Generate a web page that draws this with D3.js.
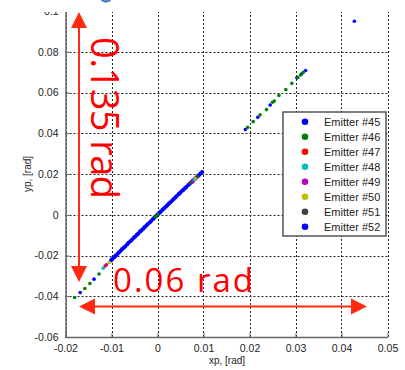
<!DOCTYPE html>
<html><head><meta charset="utf-8">
<script src="https://cdn.jsdelivr.net/npm/d3@7"></script>
<style>body{margin:0;background:#fff}svg{display:block}</style>
</head><body>
<svg id="c" width="405" height="370"></svg>
<script>
// ---- data ----
const emitters = ["Emitter #45","Emitter #46","Emitter #47","Emitter #48","Emitter #49","Emitter #50","Emitter #51","Emitter #52"];
const colors = ["#0000ff","#008000","#ff0000","#00bfbf","#bf00bf","#bfbf00","#404040","#0000ff"];
const xTicks = [-0.02,-0.01,0,0.01,0.02,0.03,0.04,0.05];
const xTickLabels = ["-0.02","-0.01","0","0.01","0.02","0.03","0.04","0.05"];
const yTicks = [-0.06,-0.04,-0.02,0,0.02,0.04,0.06,0.08,0.1];
const yTickLabels = ["-0.06","-0.04","-0.02","0","0.02","0.04","0.06","0.08","0.1"];

const e45x = [-0.0168,-0.0138,0.0191,0.0218,0.0245,0.0303,0.0313,0.0322,0.0428];
const e45y = [-0.0382,-0.0316,0.0418,0.0478,0.0539,0.0672,0.0691,0.0708,0.0950];
const e46x = [-0.0180,-0.0158,-0.0147,-0.0127,-0.0004,0.0000,0.0196,0.0208,0.0223,0.0237,0.0250,0.0254,0.0264,0.0279,0.0292,0.0305,0.0311,0.0317];
const e46y = [-0.0406,-0.0362,-0.0338,-0.0291,-0.0009,0.0000,0.0429,0.0457,0.0490,0.0516,0.0552,0.0558,0.0585,0.0614,0.0645,0.0674,0.0686,0.0699];
const e47x = [-0.0114,0.0078];
const e47y = [-0.0252,0.0166];
const e48x = [-0.0118,0.0080];
const e48y = [-0.0262,0.0171];
const e49x = [-0.0111,0.0075];
const e49y = [-0.0246,0.0161];
const e50x = [-0.0105,0.0083];
const e50y = [-0.0234,0.0180];
const e51x = [0.0071,0.0087];
const e51y = [0.0156,0.0188];
const e52x = [-0.0101,-0.0098,-0.0094,-0.0091,-0.0087,-0.0084,-0.0080,-0.0077,-0.0073,-0.0070,-0.0066,-0.0063,-0.0059,-0.0056,-0.0052,-0.0049,-0.0045,-0.0042,-0.0038,-0.0035,-0.0031,-0.0028,-0.0024,-0.0021,-0.0017,-0.0014,-0.0010,-0.0007,-0.0003,0.0000,0.0004,0.0007,0.0011,0.0014,0.0018,0.0021,0.0025,0.0028,0.0032,0.0035,0.0039,0.0042,0.0046,0.0049,0.0053,0.0056,0.0060,0.0063,0.0067,0.0070,0.0074,0.0077,0.0081,0.0084,0.0088,0.0091,0.0094,0.0097];
const e52y = [-0.0224,-0.0217,-0.0208,-0.0201,-0.0193,-0.0185,-0.0177,-0.0169,-0.0161,-0.0155,-0.0146,-0.0138,-0.0130,-0.0124,-0.0114,-0.0108,-0.0099,-0.0093,-0.0083,-0.0077,-0.0069,-0.0061,-0.0053,-0.0046,-0.0038,-0.0031,-0.0022,-0.0015,-0.0007,0.0001,0.0009,0.0015,0.0024,0.0031,0.0039,0.0046,0.0055,0.0061,0.0070,0.0077,0.0085,0.0092,0.0101,0.0107,0.0116,0.0122,0.0131,0.0137,0.0146,0.0152,0.0160,0.0167,0.0175,0.0182,0.0190,0.0196,0.0203,0.0209];

const seriesX = [e45x,e46x,e47x,e48x,e49x,e50x,e51x,e52x];
const seriesY = [e45y,e46y,e47y,e48y,e49y,e50y,e51y,e52y];

// ---- chart ----
const svg = d3.select("#c");
const L=65.5, R=387.5, T=11, B=337;
const x = d3.scaleLinear().domain([-0.02,0.05]).range([L,R]);
const y = d3.scaleLinear().domain([-0.06,0.1]).range([B,T]);
const font = "'Liberation Sans', Arial, sans-serif";

// grid
const grid = svg.append("g").attr("stroke","#222").attr("stroke-width",1).attr("stroke-dasharray","2,2");
xTicks.forEach(v=>grid.append("line").attr("x1",Math.round(x(v))+0.5).attr("x2",Math.round(x(v))+0.5).attr("y1",T).attr("y2",B));
yTicks.forEach(v=>grid.append("line").attr("y1",Math.round(y(v))+0.5).attr("y2",Math.round(y(v))+0.5).attr("x1",L).attr("x2",R));

// axes
const xAxis = d3.axisBottom(x).tickValues(xTicks).tickFormat((d,i)=>xTickLabels[i]).tickSizeInner(-4).tickSizeOuter(0).tickPadding(8);
const yAxis = d3.axisLeft(y).tickValues(yTicks).tickFormat((d,i)=>yTickLabels[i]).tickSizeInner(-4).tickSizeOuter(0).tickPadding(7);
const gx = svg.append("g").attr("transform",`translate(0,${B})`).call(xAxis);
const gy = svg.append("g").attr("transform",`translate(${L},0)`).call(yAxis);
[gx,gy].forEach(g=>{
  g.select(".domain").attr("stroke","#666").attr("stroke-width",1.5);
  g.selectAll(".tick line").attr("stroke","#666");
  g.selectAll(".tick text").attr("font-family",font).attr("font-size",10.5).attr("fill","#222");
});

// axis labels
svg.append("text").attr("x",227).attr("y",364).attr("text-anchor","middle")
  .attr("font-family",font).attr("font-size",10).attr("fill","#222").text("xp, [rad]");
svg.append("text").attr("transform","translate(31,174) rotate(-90)").attr("text-anchor","middle")
  .attr("font-family",font).attr("font-size",10).attr("fill","#222").text("yp, [rad]");

// points: draw emitter #52 first, then the others on top
const order = [7,0,1,2,3,4,5,6];
order.forEach(k=>{
  const pts = seriesX[k].map((v,i)=>[v,seriesY[k][i]]);
  svg.append("g").selectAll("circle").data(pts).join("circle")
    .attr("cx",d=>x(d[0])).attr("cy",d=>y(d[1]))
    .attr("r",k===7?2.1:1.8).attr("fill",colors[k]);
});

// legend
const lg = svg.append("g");
lg.append("rect").attr("x",283).attr("y",112).attr("width",103).attr("height",124)
  .attr("fill","#fff").attr("stroke","#555").attr("stroke-width",1.5);
emitters.forEach((name,i)=>{
  const yy = 121.7 + i*15;
  lg.append("circle").attr("cx",305).attr("cy",yy).attr("r",3.3).attr("fill",colors[i]);
  lg.append("text").attr("x",324).attr("y",yy+4).attr("font-family",font).attr("font-size",11)
    .attr("fill","#222").text(name);
});

// white cover at top (figure is cropped there)
svg.append("rect").attr("x",0).attr("y",0).attr("width",405).attr("height",12).attr("fill","#fff");
svg.append("ellipse").attr("cx",106).attr("cy",-3).attr("rx",6).attr("ry",5).attr("fill","#5b8fd6").attr("stroke","#2255aa");

// annotations
const ac = "#ff2a10";
const an = svg.append("g");
an.append("line").attr("x1",79).attr("x2",79).attr("y1",26).attr("y2",268).attr("stroke",ac).attr("stroke-width",2);
an.append("polygon").attr("points","79,12 71,28 87,28").attr("fill",ac);
an.append("polygon").attr("points","79,282 71,266 87,266").attr("fill",ac);
an.append("line").attr("x1",94).attr("x2",352).attr("y1",306.5).attr("y2",306.5).attr("stroke",ac).attr("stroke-width",2);
an.append("polygon").attr("points","79,306.5 95,298.5 95,314.5").attr("fill",ac);
an.append("polygon").attr("points","367,306.5 351,298.5 351,314.5").attr("fill",ac);
an.append("text").attr("transform","translate(91,37) rotate(90)")
  .attr("font-family","'Open Sans', sans-serif").attr("font-size",38).attr("fill","#ff0000")
  .attr("textLength",162).attr("lengthAdjust","spacing").text("0.135 rad");
an.append("text").attr("x",113).attr("y",292)
  .attr("font-family","'Open Sans', sans-serif").attr("font-size",33).attr("fill","#ff0000")
  .attr("textLength",140).attr("lengthAdjust","spacing").text("0.06 rad");
</script>
</body></html>
